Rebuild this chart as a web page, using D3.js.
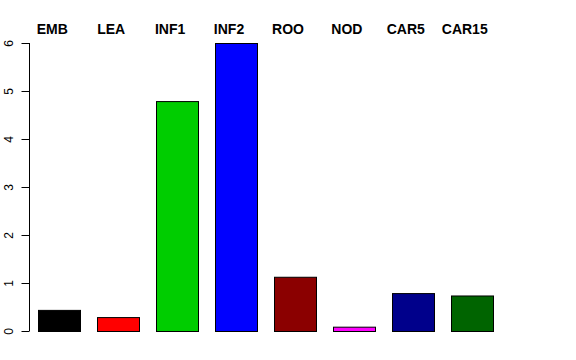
<!DOCTYPE html>
<html>
<head>
<meta charset="utf-8">
<script src="https://cdn.jsdelivr.net/npm/d3@7"></script>
<style>
  body { margin: 0; background: #fff; }
  svg { display: block; font-family: "Liberation Sans", Arial, sans-serif; }
</style>
</head>
<body>
<div id="chart"></div>
<script>
// data
const categories = ["EMB", "LEA", "INF1", "INF2", "ROO", "NOD", "CAR5", "CAR15"];
const values = [0.44, 0.29, 4.79, 6.0, 1.13, 0.09, 0.79, 0.74];
const colors = ["#000000", "#FF0000", "#00CD00", "#0000FF", "#8B0000", "#FF00FF", "#00008B", "#006400"];
const yTicks = [0, 1, 2, 3, 4, 5, 6];

const width = 576, height = 360;

const svg = d3.select("#chart").append("svg")
  .attr("width", width)
  .attr("height", height);

// scales
const x = d3.scaleBand()
  .domain(categories)
  .range([29.5, 501.5])
  .paddingInner(0.29)
  .paddingOuter(0.15);

const y = d3.scaleLinear()
  .domain([0, 6])
  .range([331, 43]);

// bars
svg.selectAll("rect.bar")
  .data(categories)
  .enter()
  .append("rect")
  .attr("class", "bar")
  .attr("x", d => Math.round(x(d)) + 0.5)
  .attr("y", (d, i) => y(values[i]) + 0.5)
  .attr("width", Math.round(x.bandwidth()))
  .attr("height", (d, i) => y(0) - y(values[i]))
  .attr("fill", (d, i) => colors[i])
  .attr("stroke", "#000")
  .attr("stroke-width", 1);

// labels on top
svg.selectAll("text.cat")
  .data(categories)
  .enter()
  .append("text")
  .attr("class", "cat")
  .attr("x", d => x(d) + x.bandwidth() / 2 - 7)
  .attr("y", 34)
  .attr("text-anchor", "middle")
  .attr("font-size", "14px")
  .attr("font-weight", "bold")
  .text(d => d);

// y axis
const axis = svg.append("g")
  .attr("transform", "translate(29.5,0)")
  .call(d3.axisLeft(y).tickValues(yTicks).tickSize(8).tickFormat(d3.format("d")));

axis.select(".domain")
  .attr("d", `M0,${y(0)}V${y(6)}`)
  .attr("stroke", "#000");

axis.selectAll(".tick line").attr("stroke", "#000");

axis.selectAll(".tick text")
  .attr("x", 0)
  .attr("y", 0)
  .attr("dy", 0)
  .attr("transform", "translate(-17,0) rotate(-90)")
  .attr("text-anchor", "middle")
  .attr("font-size", "12px")
  .attr("font-family", "Liberation Sans, Arial, sans-serif")
  .attr("fill", "#000");
</script>
</body>
</html>
